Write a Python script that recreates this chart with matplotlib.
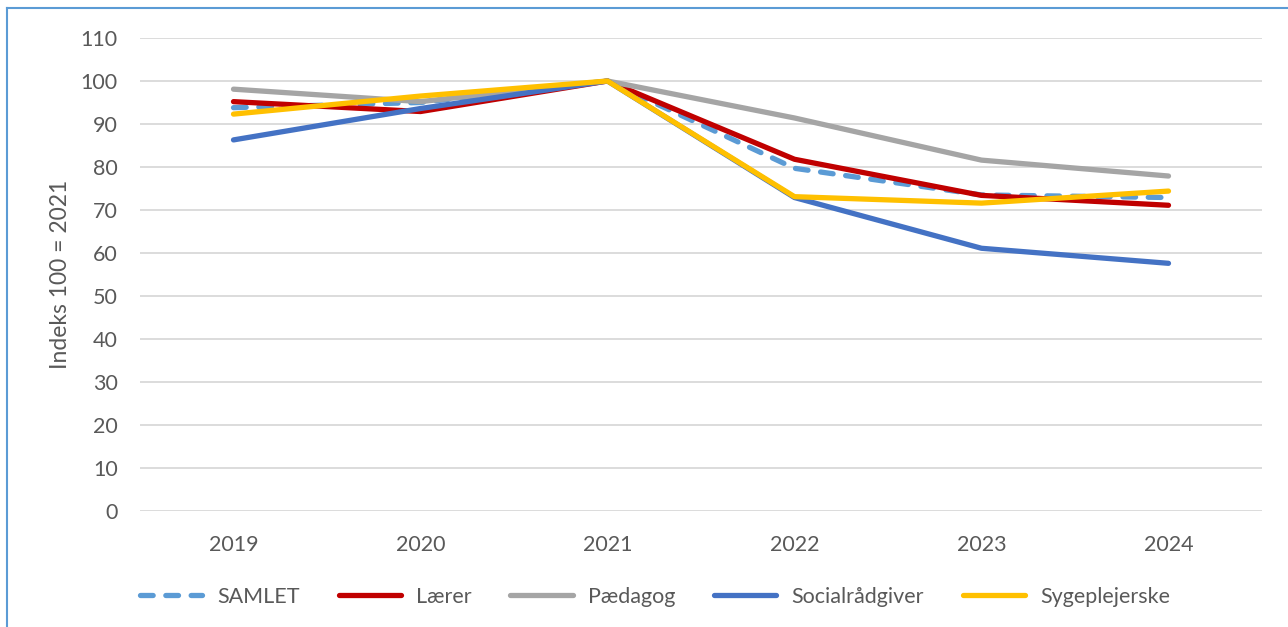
import matplotlib
matplotlib.use("Agg")
import matplotlib.pyplot as plt
from matplotlib.lines import Line2D

years = ["2019", "2020", "2021", "2022", "2023", "2024"]
samlet = [93.8, 95.0, 100.0, 79.7, 73.5, 72.9]
laerer = [95.2, 92.9, 100.0, 81.8, 73.4, 71.1]
paedagog = [98.1, 95.2, 100.0, 91.4, 81.6, 77.9]
socialraadgiver = [86.3, 93.6, 100.0, 72.9, 61.1, 57.6]
sygeplejerske = [92.3, 96.5, 100.0, 73.1, 71.6, 74.4]
yticks = list(range(0, 111, 10))

plt.rcParams['font.family'] = ['Lato', 'DejaVu Sans']
txt = '#595959'
fs = 15.5

fig = plt.figure(figsize=(12.88, 6.27), dpi=100)
ax = fig.add_axes([140/1288, 1-511/627, 1122/1288, (511-38)/627])

x = list(range(len(years)))
lw = 3.8
ax.plot(x, samlet, color='#5B9BD5', lw=lw, dashes=(2.4, 2.4), dash_capstyle='round',
        solid_capstyle='round', label='SAMLET', zorder=3)
ax.plot(x, laerer, color='#C00000', lw=lw, solid_capstyle='round', label='Lærer', zorder=4)
ax.plot(x, paedagog, color='#A5A5A5', lw=lw, solid_capstyle='round', label='Pædagog', zorder=5)
ax.plot(x, socialraadgiver, color='#4472C4', lw=lw, solid_capstyle='round', label='Socialrådgiver', zorder=6)
ax.plot(x, sygeplejerske, color='#FFC000', lw=lw, solid_capstyle='round', label='Sygeplejerske', zorder=7)

ax.set_xlim(-0.5, len(years) - 0.5)
ax.set_ylim(0, 110)
ax.set_yticks(yticks)
ax.set_xticks(x)
ax.set_xticklabels(years)
ax.grid(axis='y', color='#D9D9D9', lw=1.3)
ax.set_axisbelow(True)
for s in ax.spines.values():
    s.set_visible(False)
ax.tick_params(length=0, labelsize=fs, colors=txt)
ax.tick_params(axis='y', pad=16)
ax.tick_params(axis='x', pad=17)
ax.set_ylabel('Indeks 100 = 2021', fontsize=fs + 1, color=txt, labelpad=7)

leg = fig.legend(loc='center', bbox_to_anchor=(655/1288, 1-597/627), ncol=5, frameon=False,
                 fontsize=fs, handlelength=2.9, handletextpad=0.7, columnspacing=1.8)
for t in leg.get_texts():
    t.set_color(txt)

# chart frame
fig.add_artist(Line2D([7/1288, 1], [1-8/627, 1-8/627], color='#5B9BD5', lw=1.5, transform=fig.transFigure))
fig.add_artist(Line2D([7/1288, 7/1288], [0, 1-8/627], color='#5B9BD5', lw=1.5, transform=fig.transFigure))

fig.savefig('out.png', dpi=100)
